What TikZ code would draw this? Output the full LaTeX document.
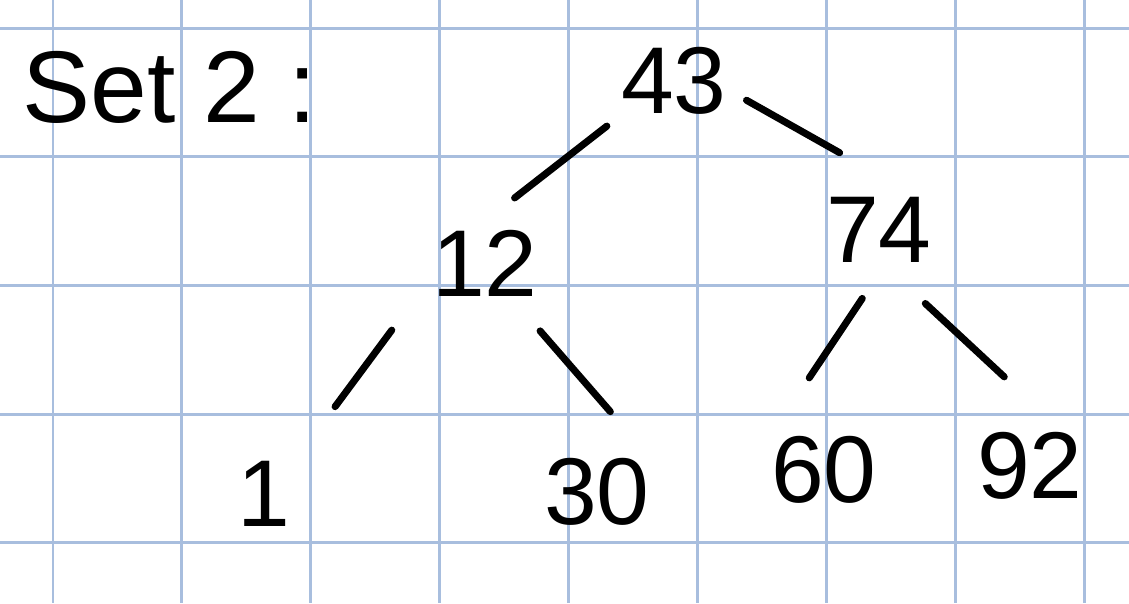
\documentclass[tikz,border=0pt]{standalone}
\usepackage{fontspec}
\setmainfont{Liberation Sans}
\usetikzlibrary{positioning}

\definecolor{gridblue}{RGB}{168,190,222}

\begin{document}
\begin{tikzpicture}[x=0.02cm,y=-0.02cm]
  \tikzset{key/.style = {shape=rectangle,inner sep=0pt,minimum width=2.12cm,minimum height=1.36cm,font=\fontsize{54}{60}\selectfont}}
  \tikzset{branch/.style = {line width=4pt,line cap=round}}
  \tikzset{paper/.style = {gridblue,line width=1.7pt}}

  \useasboundingbox (0,0) rectangle (1129,603);
  \fill[white] (0,0) rectangle (1129,603);

  % squared paper
  \foreach \i in {0,...,8} \draw[paper] (53+128.9*\i,0) -- (53+128.9*\i,603);
  \foreach \j in {0,...,4} \draw[paper] (0,28+128.7*\j) -- (1129,28+128.7*\j);

  \node[font=\fontsize{58}{64}\selectfont] (title) at (170,87) {Set 2 :};

  \node[key] (n43) at (674,81) {43};
  \node[key] (n12) at (485,263) {12};
  \node[key] (n74) at (879,230) {74};

  \node[key,minimum width=1.08cm] (n1) at (264,494) {1};
  \node[key] (n30) at (597,492) {30};
  \node[key] (n60) at (824,470) {60};
  \node[key] (n92) at (1030,466) {92};

  \draw[branch, shorten <=0.35cm, shorten >=1cm] (n43.south west) to (n12.106);
  \draw[branch, shorten <=0.44cm, shorten >=1.75cm] (n43.351) to (n74.43);

  \draw[branch, shorten <=1.34cm, shorten >=1.47cm] (n12.194) to (n1.46);
  \draw[branch, shorten <=0.89cm, shorten >=1.22cm] (n12.307) to (n30.north east);
  \draw[branch, shorten <=0.82cm, shorten >=1.39cm] (n74.280) to (n60.north west);
  \draw[branch, shorten <=1.15cm, shorten >=1.61cm] (n74.277) to (n92.46);
\end{tikzpicture}
\end{document}
